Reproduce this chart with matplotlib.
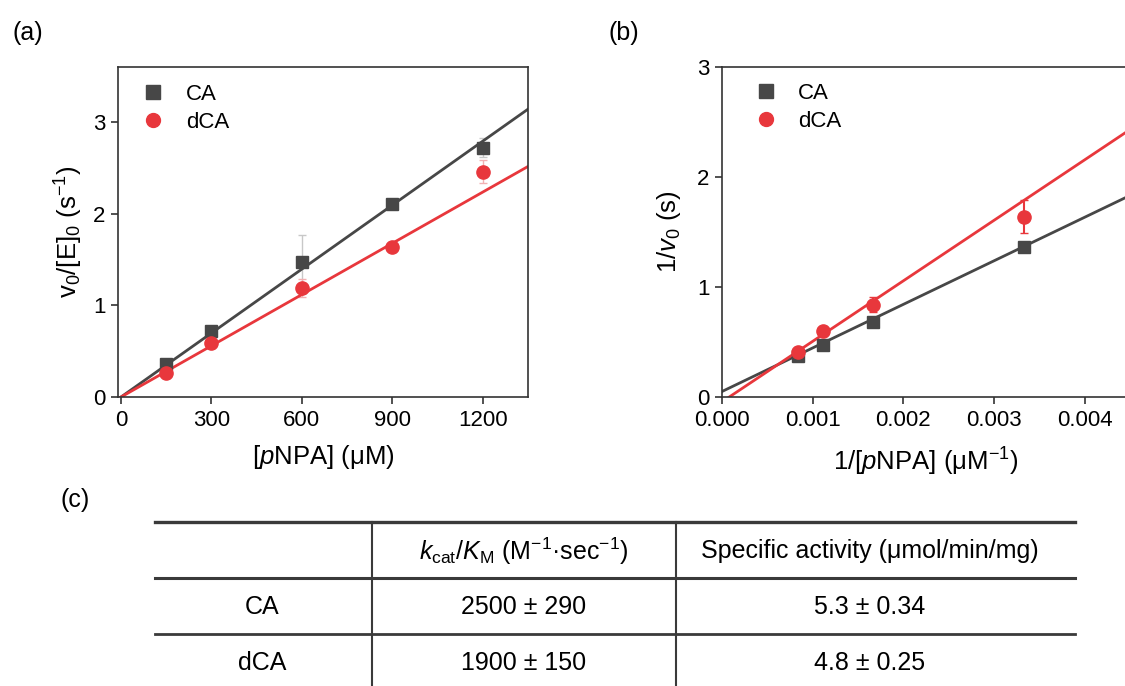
import matplotlib
matplotlib.use("Agg")
import matplotlib.pyplot as plt
import numpy as np
from matplotlib.lines import Line2D

plt.rcParams['font.family'] = ['Liberation Sans', 'DejaVu Sans']
plt.rcParams['mathtext.fontset'] = 'custom'
plt.rcParams['mathtext.rm'] = 'Liberation Sans'
plt.rcParams['mathtext.it'] = 'Liberation Sans:italic'

# ---------------- data ----------------
conc = [150, 300, 600, 900, 1200]                     # [pNPA] (uM)
ca_rate = [0.36, 0.72, 1.47, 2.11, 2.72]
ca_rate_err = [0.03, 0.04, 0.30, 0.04, 0.10]
dca_rate = [0.26, 0.59, 1.19, 1.64, 2.46]
dca_rate_err = [0.03, 0.04, 0.10, 0.04, 0.13]
ca_slope_a, dca_slope_a = 0.002326, 0.001863

inv_conc = [1/1200, 1/900, 1/600, 1/300]
ca_inv = [0.37, 0.47, 0.68, 1.36]
ca_inv_err = [0.03, 0.03, 0.04, 0.03]
dca_inv = [0.41, 0.60, 0.84, 1.64]
dca_inv_err = [0.03, 0.04, 0.07, 0.15]
ca_fit_b = (396.0, 0.05)      # slope, intercept
dca_fit_b = (550.0, -0.044)

xticks_a = [0, 300, 600, 900, 1200]
yticks_a = [0, 1, 2, 3]
xticks_b = [0.000, 0.001, 0.002, 0.003, 0.004]
yticks_b = [0, 1, 2, 3]

col_labels = ["", r"$\mathit{k}_{\rm cat}/\mathit{K}_{\rm M}$ (M$^{-1}$·sec$^{-1}$)",
              "Specific activity (μmol/min/mg)"]
row_names = ["CA", "dCA"]
kcat_km = ["2500 ± 290", "1900 ± 150"]
spec_act = ["5.3 ± 0.34", "4.8 ± 0.25"]

GRAY = '#474747'
RED = '#e8373c'
TICK_FS = 16
LAB_FS = 18.5
LEG_FS = 16

W, H = 1125, 686
fig = plt.figure(figsize=(W/100, H/100), dpi=100)

def rect(x0, y0, x1, y1):
    return [x0/W, 1 - y1/H, (x1-x0)/W, (y1-y0)/H]

def style(ax):
    for s in ax.spines.values():
        s.set_color('#333333')
        s.set_linewidth(1.2)
    ax.tick_params(direction='out', length=5, width=1.2, color='#333333',
                   labelsize=TICK_FS, pad=4)

def legend(ax, x, y):
    hs = [Line2D([], [], marker='s', ls='none', color=GRAY, ms=9.5),
          Line2D([], [], marker='o', ls='none', color=RED, ms=10)]
    ax.legend(hs, ['CA', 'dCA'], loc='upper left', frameon=False, fontsize=LEG_FS,
              handletextpad=0.85, borderaxespad=0, borderpad=0,
              labelspacing=0.32, handlelength=1.2, bbox_to_anchor=(x, y))

# ---------------- panel (a) ----------------
ax = fig.add_axes(rect(118, 67, 528, 397))
xx = np.array([-10, 1350])
ax.plot(xx, ca_slope_a*xx, color=GRAY, lw=2, zorder=2)
ax.plot(xx, dca_slope_a*xx, color=RED, lw=2, zorder=2)
ax.errorbar(conc, ca_rate, yerr=ca_rate_err, fmt='none', ecolor='#c8c8c8',
            elinewidth=1, capsize=3, zorder=1)
ax.errorbar(conc, dca_rate, yerr=dca_rate_err, fmt='none', ecolor='#f2b0b2',
            elinewidth=1, capsize=3, zorder=1)
ax.plot(conc, ca_rate, 's', color=GRAY, ms=9, zorder=3)
ax.plot(conc, dca_rate, 'o', color=RED, ms=9.5, zorder=3)
ax.set_xlim(-10, 1350)
ax.set_ylim(0, 3.6)
ax.set_xticks(xticks_a)
ax.set_yticks(yticks_a)
style(ax)
ax.set_xlabel('[$\\mathit{p}$NPA] (μM)', fontsize=LAB_FS, labelpad=9)
ax.set_ylabel('v$_0$/[E]$_0$ (s$^{-1}$)', fontsize=LAB_FS, labelpad=6)
legend(ax, 0.054, 0.948)

# ---------------- panel (b) ----------------
bx = fig.add_axes(rect(722, 67, 1130, 397))
xb = np.array([0, 0.0045])
bx.plot(xb, ca_fit_b[0]*xb + ca_fit_b[1], color=GRAY, lw=2, zorder=2)
bx.plot(xb, dca_fit_b[0]*xb + dca_fit_b[1], color=RED, lw=2, zorder=2)
bx.errorbar(inv_conc, ca_inv, yerr=ca_inv_err, fmt='s', color=GRAY, ms=9,
            elinewidth=1.5, capsize=3, zorder=3)
bx.errorbar(inv_conc, dca_inv, yerr=dca_inv_err, fmt='o', color=RED, ms=9.5,
            elinewidth=1.5, capsize=3, zorder=3)
bx.set_xlim(0, 0.0045)
bx.set_ylim(0, 3)
bx.set_xticks(xticks_b)
bx.set_xticklabels([f'{t:.3f}' for t in xticks_b])
bx.set_yticks(yticks_b)
style(bx)
bx.set_xlabel('1/[$\\mathit{p}$NPA] (μM$^{-1}$)', fontsize=LAB_FS, labelpad=11)
bx.set_ylabel('1/$\\mathit{v}_0$ (s)', fontsize=LAB_FS, labelpad=10)
legend(bx, 0.074, 0.952)

# ---------------- panel labels ----------------
fig.text(12/W, 1-33/H, '(a)', fontsize=18, va='center', ha='left')
fig.text(609/W, 1-33/H, '(b)', fontsize=18, va='center', ha='left')
fig.text(60/W, 1-500/H, '(c)', fontsize=18, va='center', ha='left')

# ---------------- table (c) ----------------
tab = fig.add_axes([0, 0, 1, 1])
tab.set_xlim(0, W)
tab.set_ylim(H, 0)
tab.axis('off')
lc = '#3a3a3a'
for y, lw in [(522, 2.4), (578, 2.2), (634, 2.0)]:
    tab.add_line(Line2D([155, 1075], [y, y], color=lc, lw=lw))
for x in [372, 676]:
    tab.add_line(Line2D([x, x], [522, 690], color=lc, lw=1.5))
col_x = [262, 524, 870]
header_y, row_y = 551, [607, 663]
for cx, txt in zip(col_x, col_labels):
    if txt:
        tab.text(cx, header_y, txt, ha='center', va='center', fontsize=18)
for i, name in enumerate(row_names):
    tab.text(col_x[0], row_y[i], name, ha='center', va='center', fontsize=18)
    tab.text(col_x[1], row_y[i], kcat_km[i], ha='center', va='center', fontsize=18)
    tab.text(col_x[2], row_y[i], spec_act[i], ha='center', va='center', fontsize=18)

fig.savefig('out.png', dpi=100)
